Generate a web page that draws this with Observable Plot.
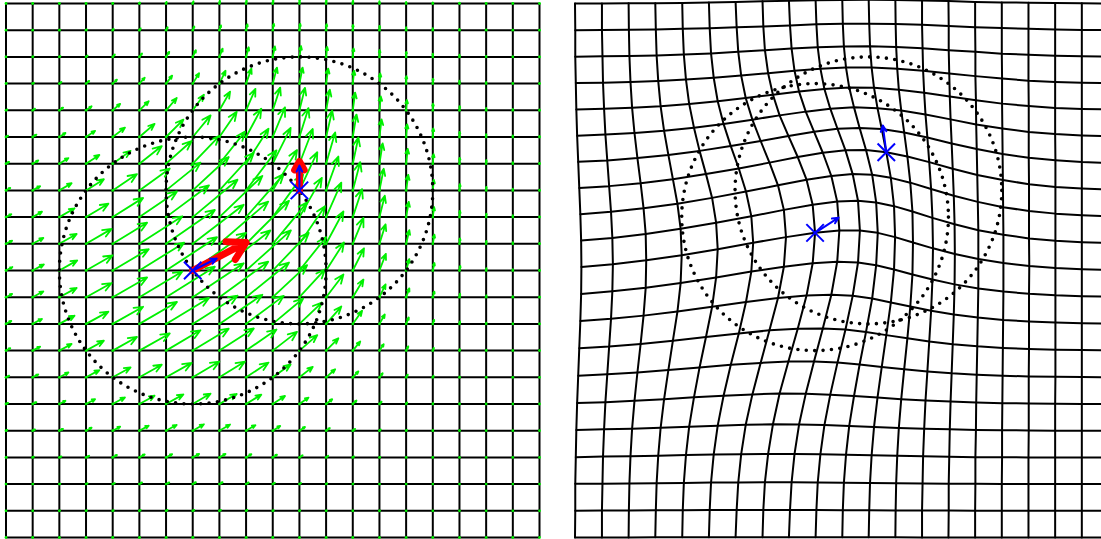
<!DOCTYPE html>
<html><head><meta charset="utf-8">
<script src="https://cdn.jsdelivr.net/npm/d3@7"></script>
<script src="https://cdn.jsdelivr.net/npm/@observablehq/plot@0.6"></script>
<style>
html,body{margin:0;padding:0;background:#fff;overflow:hidden;width:1101px;height:539px;position:relative;}
.panel{position:absolute;top:0;width:544px;height:539px;}
.panel svg{max-width:none !important;}
#left{left:0;} #right{left:568.8px;}
</style></head><body>
<div id="left" class="panel"></div><div id="right" class="panel"></div>
<script>
// Grid node indices (21 x 21 nodes, 20 x 20 cells)
const gridIndex = [0,1,2,3,4,5,6,7,8,9,10,11,12,13,14,15,16,17,18,19,20];

// Control points (grid units) and their red momentum arrows
const controlX = [7, 11];
const controlY = [10, 7];
const momentumDx = [2.0, 0.0];
const momentumDy = [-1.05, -1.08];

// Blue arrows at control points (left: original, right: deformed)
const blueLeftDx = [0.9, 0.0];
const blueLeftDy = [-0.45, -0.93];
const blueRightDx = [0.88, -0.13];
const blueRightDy = [-0.57, -1.0];

// Dotted circles (grid units)
const circleLeftX = [7, 11], circleLeftY = [10, 7];
const circleRightX = [9, 11], circleRightY = [8, 7];
const circleRadius = 5;

// Displacement of every grid node (green arrows / deformed grid),
// in hundredths of a grid cell. Rows j = 0..20 (top to bottom), columns i = 0..20.
const shiftRight = [
[0,1,1,1,2,2,2,3,2,2,2,1,1,1,0,0,0,0,0,0,0],
[1,1,2,3,4,5,6,6,6,5,4,3,2,1,1,0,0,0,0,0,0],
[1,3,4,6,8,10,12,12,12,10,8,6,4,3,1,1,0,0,0,0,0],
[3,5,8,12,16,20,23,24,23,20,16,12,8,5,3,1,1,0,0,0,0],
[5,9,14,21,28,35,40,42,40,35,28,21,14,9,5,3,1,1,0,0,0],
[8,14,23,34,46,57,65,67,65,57,46,34,23,14,8,4,2,1,0,0,0],
[12,21,34,50,67,84,96,100,96,84,67,50,34,21,12,6,3,1,1,0,0],
[16,28,46,67,91,114,129,135,129,114,91,67,46,28,16,8,4,2,1,0,0],
[20,35,57,84,114,141,161,168,161,141,114,84,57,35,20,10,5,2,1,0,0],
[23,40,65,96,129,161,183,191,183,161,129,96,65,40,23,12,6,2,1,0,0],
[24,42,67,100,135,168,191,200,191,168,135,100,67,42,24,12,6,3,1,0,0],
[23,40,65,96,129,161,183,191,183,161,129,96,65,40,23,12,6,2,1,0,0],
[20,35,57,84,114,141,161,168,161,141,114,84,57,35,20,10,5,2,1,0,0],
[16,28,46,67,91,114,129,135,129,114,91,67,46,28,16,8,4,2,1,0,0],
[12,21,34,50,67,84,96,100,96,84,67,50,34,21,12,6,3,1,1,0,0],
[8,14,23,34,46,57,65,67,65,57,46,34,23,14,8,4,2,1,0,0,0],
[5,9,14,21,28,35,40,42,40,35,28,21,14,9,5,3,1,1,0,0,0],
[3,5,8,12,16,20,23,24,23,20,16,12,8,5,3,1,1,0,0,0,0],
[1,3,4,6,8,10,12,12,12,10,8,6,4,3,1,1,0,0,0,0,0],
[1,1,2,3,4,5,6,6,6,5,4,3,2,1,1,0,0,0,0,0,0],
[0,1,1,1,2,2,2,3,2,2,2,1,1,1,0,0,0,0,0,0,0]
];
const shiftUp = [
[0,0,1,1,2,4,6,8,10,12,13,14,13,11,9,6,4,3,2,1,0],
[0,1,2,3,5,7,11,14,18,22,24,24,23,20,16,11,8,5,3,1,1],
[1,2,3,5,9,13,19,25,31,36,39,40,37,32,25,19,12,8,4,2,1],
[2,3,6,10,15,22,30,39,48,56,60,60,56,48,38,28,19,11,6,3,2],
[3,6,10,15,24,34,46,58,70,80,85,84,77,66,52,38,25,16,9,5,3],
[5,9,15,23,35,49,65,81,95,106,111,108,99,84,66,47,32,19,11,6,3],
[7,12,21,33,48,66,85,104,120,131,134,130,117,98,76,55,36,22,13,6,3],
[9,16,27,42,61,82,104,125,141,150,151,143,127,106,81,58,39,23,13,7,3],
[11,20,33,50,72,96,119,140,154,161,159,147,129,105,80,57,37,23,13,7,3],
[12,22,37,56,79,103,127,146,158,161,155,141,121,97,73,51,34,20,11,6,3],
[13,23,38,57,80,104,125,141,150,150,141,125,105,83,62,43,28,17,9,5,2],
[12,22,35,53,74,96,114,127,133,130,120,104,85,66,48,33,21,13,7,4,2],
[11,19,31,46,64,82,97,106,109,105,95,80,65,49,35,24,15,9,5,2,1],
[9,15,25,37,51,64,76,82,83,79,70,58,46,34,24,16,10,6,3,2,1],
[6,11,18,27,37,47,54,59,59,55,48,39,30,22,15,10,6,3,2,1,0],
[4,7,12,18,25,31,36,39,38,35,30,24,18,13,9,6,3,2,1,0,0],
[3,5,7,11,15,19,22,24,23,21,18,14,10,7,5,3,2,1,0,0,0],
[1,3,4,6,9,11,12,13,13,12,10,8,6,4,2,1,1,0,0,0,0],
[1,1,2,3,4,6,6,7,7,6,5,4,3,2,1,1,0,0,0,0,0],
[0,1,1,2,2,3,3,3,3,3,2,2,1,1,1,0,0,0,0,0,0],
[0,0,0,1,1,1,1,1,1,1,1,1,1,0,0,0,0,0,0,0,0]
];

// ---- build tables for the marks ----
const nodes = [];
for (const j of gridIndex) for (const i of gridIndex) {
  nodes.push({i, j, vx: shiftRight[j][i] / 100, vy: -shiftUp[j][i] / 100});
}
const node = (i, j) => nodes[j * 21 + i];
function circlePts(cx, cy) {
  const pts = [];
  cx.forEach((c, k) => { for (let t = 0; t <= 360; t += 2) pts.push({k, x: c + circleRadius * Math.cos(t * Math.PI / 180), y: cy[k] + circleRadius * Math.sin(t * Math.PI / 180)}); });
  return pts;
}
const cps = controlX.map((x, k) => ({x, y: controlY[k], k}));
const cpsR = cps.map(d => { const n = node(d.x, d.y); return {x: d.x + n.vx, y: d.y + n.vy, k: d.k}; });

const common = {width: 544, height: 539, marginLeft: 5.5, marginRight: 5, marginTop: 3, marginBottom: 2,
  x: {domain: [0, 20], axis: null}, y: {domain: [0, 20], reverse: true, axis: null},
  style: {background: "transparent", overflow: "visible", maxWidth: "none"}};
const green = "#00f000";
const dotted = {stroke: "#000", strokeWidth: 3.6, strokeDasharray: "0,8.4", strokeLinecap: "round"};

const left = Plot.plot({...common, marks: [
  Plot.ruleX(gridIndex, {x: d => d, y1: 0, y2: 20, stroke: "#000", strokeWidth: 2}),
  Plot.ruleY(gridIndex, {y: d => d, x1: 0, x2: 20, stroke: "#000", strokeWidth: 2}),
  Plot.arrow(nodes, {x1: "i", y1: "j", x2: d => d.i + d.vx, y2: d => d.j + d.vy, stroke: green, strokeWidth: 1.8, headAngle: 45, headLength: 8}),
  Plot.dot(nodes, {x: "i", y: "j", r: 1.4, fill: green}),
  Plot.line(circlePts(circleLeftX, circleLeftY), {x: "x", y: "y", z: "k", ...dotted}),
  Plot.arrow(cps, {x1: "x", y1: "y", x2: d => d.x + momentumDx[d.k], y2: d => d.y + momentumDy[d.k], stroke: "#ff0000", strokeWidth: 7, headAngle: 60, headLength: 7}),
  Plot.arrow(cps, {x1: "x", y1: "y", x2: d => d.x + blueLeftDx[d.k], y2: d => d.y + blueLeftDy[d.k], stroke: "#0000ff", strokeWidth: 2, headAngle: 50, headLength: 5}),
  Plot.dot(cps, {x: "x", y: "y", symbol: "times", r: 8, stroke: "#0000ff", strokeWidth: 2})
]});

const lines = [];
for (const i of gridIndex) for (const j of gridIndex) { const n = node(i, j); lines.push({z: "v" + i, x: i + n.vx, y: j + n.vy}); }
for (const j of gridIndex) for (const i of gridIndex) { const n = node(i, j); lines.push({z: "h" + j, x: i + n.vx, y: j + n.vy}); }
const right = Plot.plot({...common, marks: [
  Plot.line(lines, {x: "x", y: "y", z: "z", stroke: "#000", strokeWidth: 2}),
  Plot.line(circlePts(circleRightX, circleRightY), {x: "x", y: "y", z: "k", ...dotted}),
  Plot.arrow(cpsR, {x1: "x", y1: "y", x2: d => d.x + blueRightDx[d.k], y2: d => d.y + blueRightDy[d.k], stroke: "#0000ff", strokeWidth: 2, headAngle: 50, headLength: 5}),
  Plot.dot(cpsR, {x: "x", y: "y", symbol: "times", r: 8, stroke: "#0000ff", strokeWidth: 2})
]});
document.getElementById("left").appendChild(left);
document.getElementById("right").appendChild(right);
</script></body></html>
